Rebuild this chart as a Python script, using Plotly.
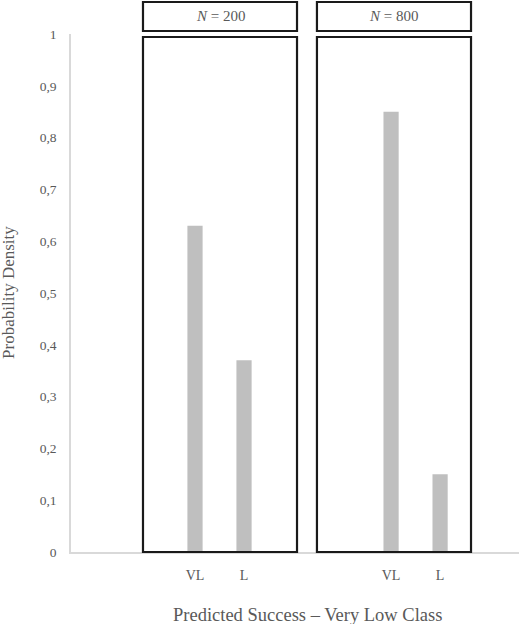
import plotly.graph_objects as go

# --- data ---
categories = ["", "", "VL", "L", "", "", "VL", "L", ""]
density = [0, 0, 0.63, 0.37, 0, 0, 0.85, 0.15, 0]
panel_labels = ["<i>N</i> = 200", "<i>N</i> = 800"]
y_ticks = [0, 0.1, 0.2, 0.3, 0.4, 0.5, 0.6, 0.7, 0.8, 0.9, 1]

FONT = "Liberation Serif, Times New Roman, serif"
GREY_TXT = "#595959"

idx = list(range(len(categories)))

fig = go.Figure(
    go.Bar(
        x=idx,
        y=density,
        width=0.31,
        marker=dict(color="#bfbfbf", line=dict(width=0)),
        hovertemplate="%{y}<extra></extra>",
    )
)

# panel frames (paper coords)
panels = [(0.1607, 0.5045), (0.549, 0.8929)]
shapes = []
annotations = []
for (x0, x1), lbl in zip(panels, panel_labels):
    shapes.append(dict(type="rect", xref="paper", yref="paper", x0=x0, x1=x1,
                       y0=0, y1=0.9942, line=dict(color="#1a1a1a", width=2.2)))
    shapes.append(dict(type="rect", xref="paper", yref="paper", x0=x0, x1=x1,
                       y0=1.0058, y1=1.0618, line=dict(color="#1a1a1a", width=2.2)))
    annotations.append(dict(text=lbl, xref="paper", yref="paper", x=(x0 + x1) / 2,
                            y=1.0338, showarrow=False, xanchor="center", yanchor="middle",
                            font=dict(family=FONT, size=15, color=GREY_TXT)))

annotations.append(dict(text="Probability Density", xref="paper", yref="paper",
                        x=-0.1385, y=0.502, textangle=-90, showarrow=False,
                        xanchor="center", yanchor="middle",
                        font=dict(family=FONT, size=17, color=GREY_TXT)))
annotations.append(dict(text="Predicted Success – Very Low Class", xref="paper", yref="paper",
                        x=0.529, y=-0.1216, showarrow=False,
                        xanchor="center", yanchor="middle",
                        font=dict(family=FONT, size=18.5, color=GREY_TXT)))

fig.update_layout(
    width=520,
    height=624,
    margin=dict(l=71, r=1, t=34, b=72),
    paper_bgcolor="white",
    plot_bgcolor="white",
    font=dict(family=FONT, color=GREY_TXT),
    separators=",.",
    showlegend=False,
    shapes=shapes,
    annotations=annotations,
    xaxis=dict(
        range=[-0.53, 8.61],
        tickmode="array",
        tickvals=idx,
        ticktext=categories,
        showgrid=False,
        zeroline=False,
        showline=True,
        linecolor="#d9d9d9",
        linewidth=1.5,
        ticks="",
        ticklabelstandoff=9,
        tickfont=dict(family=FONT, size=14, color=GREY_TXT),
    ),
    yaxis=dict(
        range=[0, 1],
        tickmode="array",
        tickvals=y_ticks,
        showgrid=False,
        zeroline=False,
        showline=True,
        linecolor="#d9d9d9",
        linewidth=1.5,
        ticks="",
        ticklabelstandoff=10,
        tickfont=dict(family=FONT, size=13.5, color=GREY_TXT),
    ),
)

# drop the browser's default 8px body margin so the figure fills the window
fig.write_html(
    "out.html",
    config={"displayModeBar": False},
    post_script="document.body.style.margin = '0';",
)
